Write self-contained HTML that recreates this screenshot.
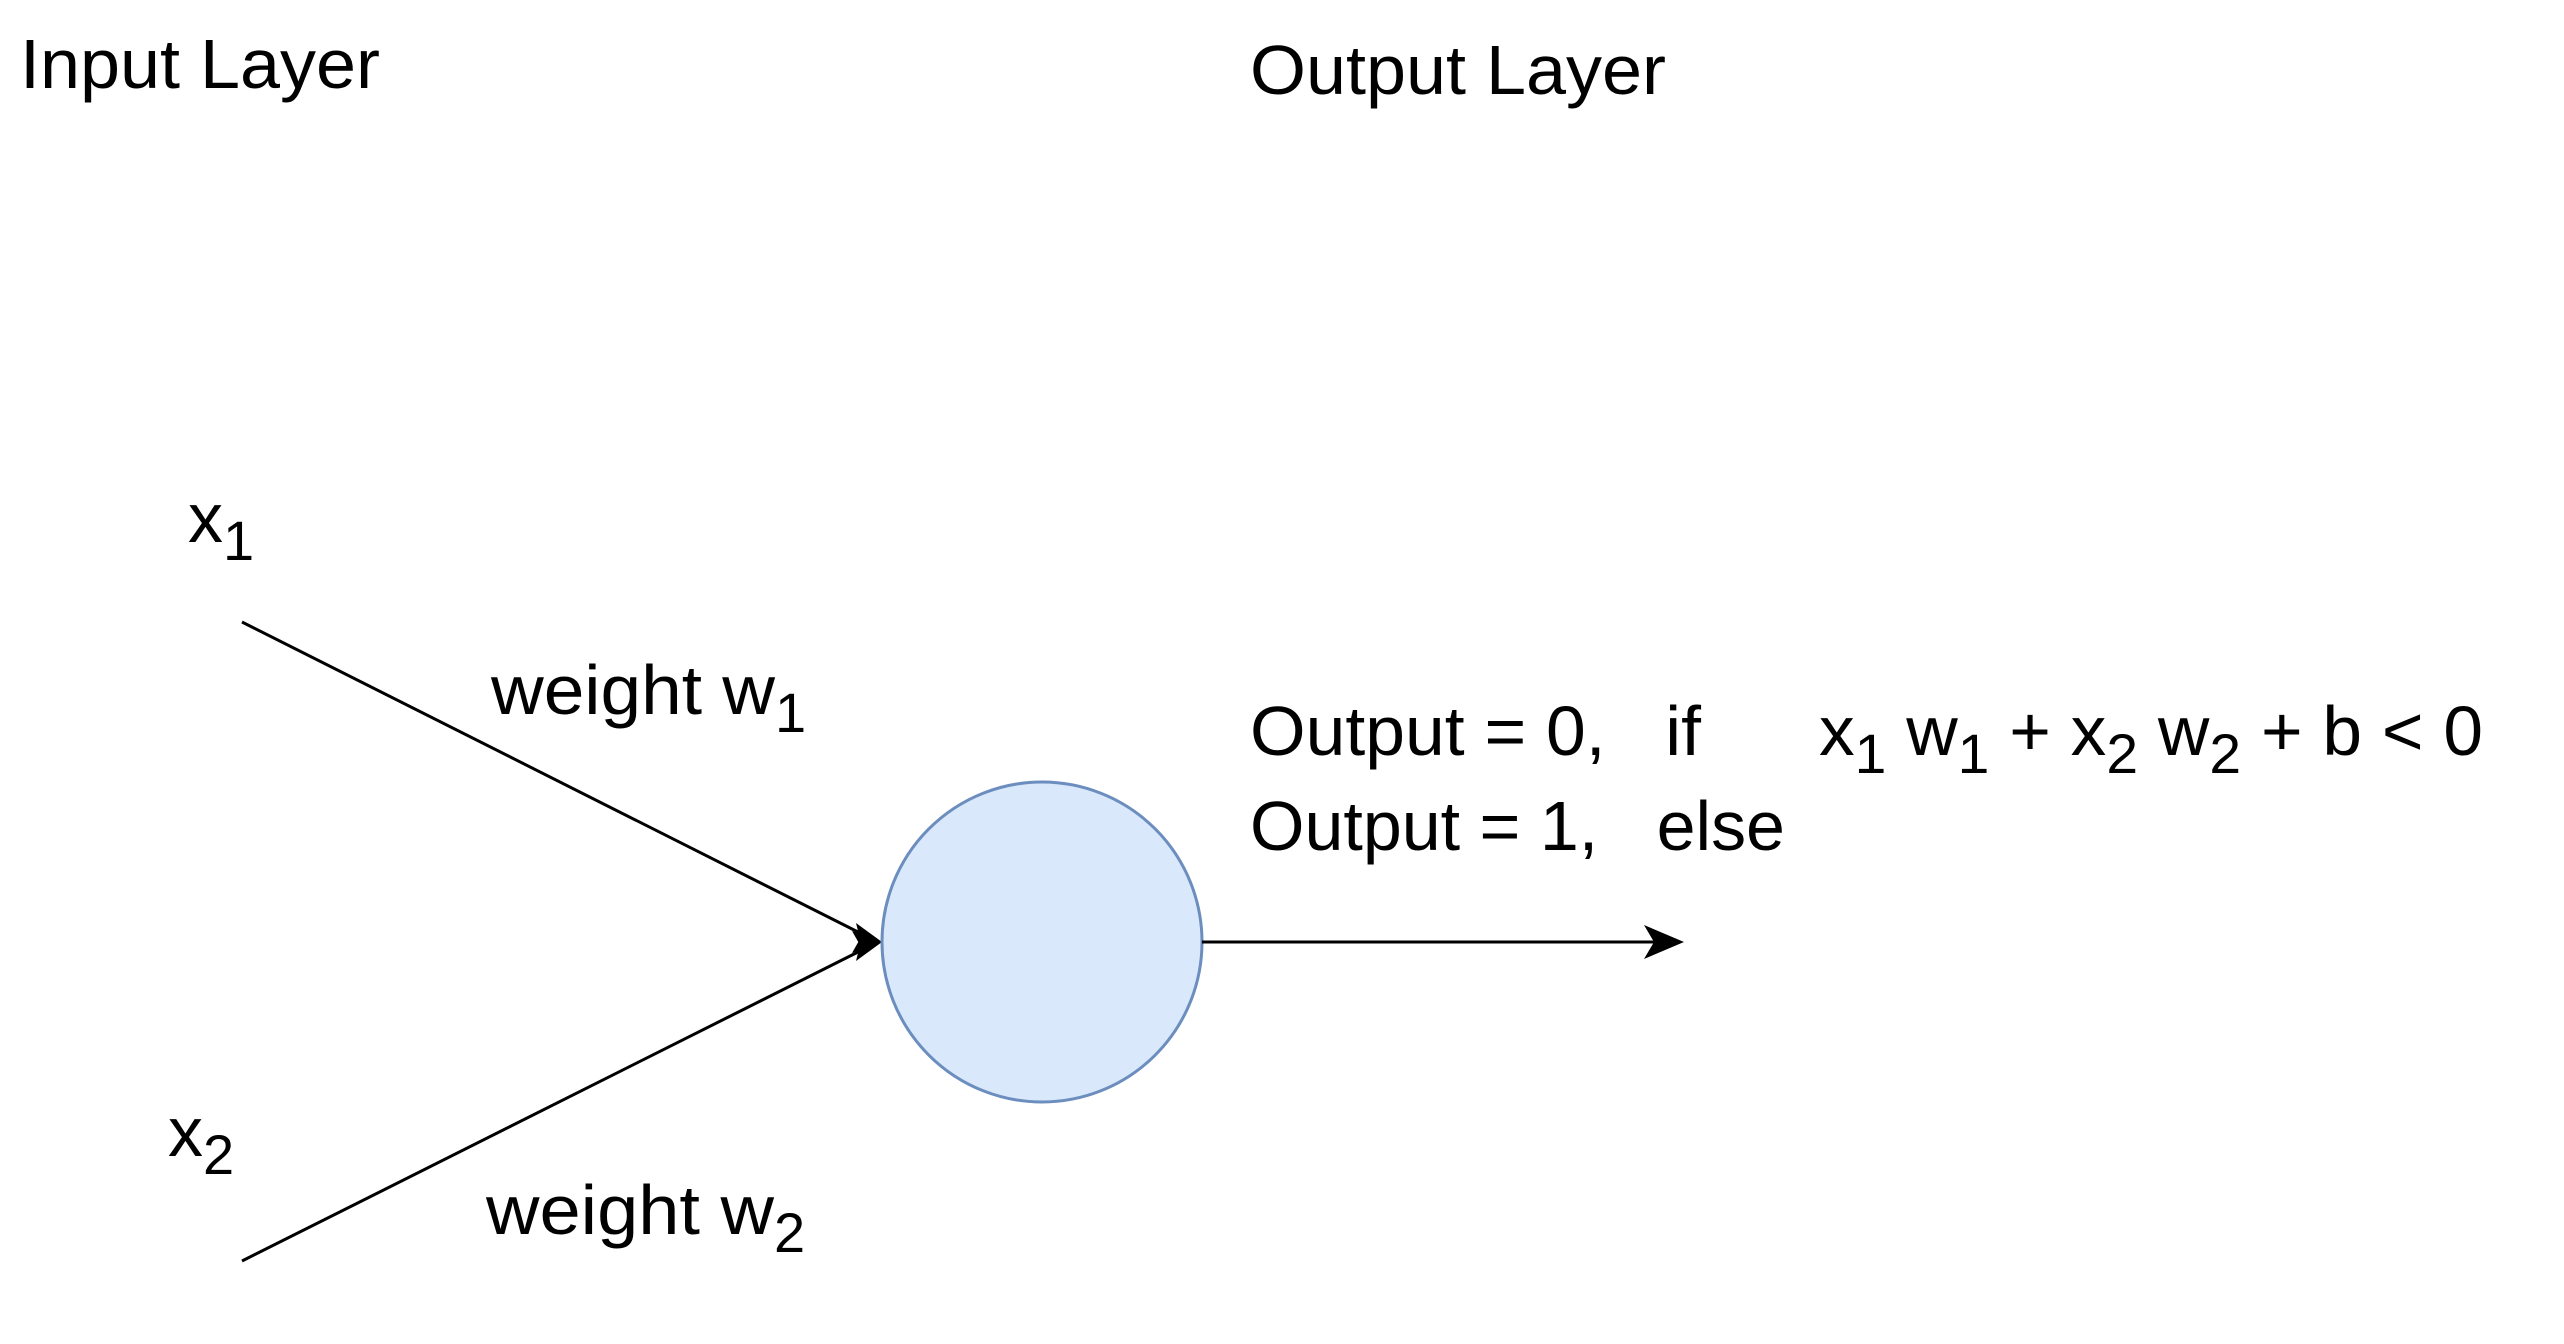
<!DOCTYPE html>
<html><head><meta charset="utf-8"><style>
html,body{margin:0;padding:0;background:#fff;width:2564px;height:1344px;overflow:hidden}
svg{display:block}
text{font-family:"Liberation Sans",sans-serif;fill:#000;white-space:pre}
</style></head><body>
<svg width="2564" height="1344" viewBox="0 0 2564 1344">
<text x="20" y="88" font-size="70" textLength="360" lengthAdjust="spacingAndGlyphs">Input Layer</text>
<text x="1250" y="94" font-size="70" textLength="416" lengthAdjust="spacingAndGlyphs">Output Layer</text>

<text x="188" y="542" font-size="70">x<tspan font-size="56" dy="18">1</tspan></text>
<text x="168" y="1156" font-size="70">x<tspan font-size="56" dy="18">2</tspan></text>

<line x1="242" y1="622" x2="868" y2="937" stroke="#000" stroke-width="3"/>
<path d="M882,942 L852,953 L860,939 L856,923 Z" fill="#000"/>
<line x1="242" y1="1261" x2="868" y2="947" stroke="#000" stroke-width="3"/>
<path d="M882,942 L856,961 L860,945 L852,931 Z" fill="#000"/>

<text x="491" y="714" font-size="70"><tspan textLength="284" lengthAdjust="spacingAndGlyphs">weight w</tspan><tspan font-size="56" dy="18">1</tspan></text>
<text x="486" y="1234" font-size="70"><tspan textLength="288" lengthAdjust="spacingAndGlyphs">weight w</tspan><tspan font-size="56" dy="18">2</tspan></text>

<circle cx="1042" cy="942" r="160" fill="#dae8fc" stroke="#6c8ebf" stroke-width="3"/>

<line x1="1202" y1="942" x2="1672" y2="942" stroke="#000" stroke-width="3"/>
<path d="M1684,942 L1644,959 L1654,942 L1644,925 Z" fill="#000"/>

<text x="1250" y="755" font-size="70" textLength="451" lengthAdjust="spacingAndGlyphs">Output = 0,   if</text>
<text x="1250" y="850" font-size="70" textLength="535" lengthAdjust="spacingAndGlyphs">Output = 1,   else</text>
<text x="1819" y="755" font-size="70" textLength="664" lengthAdjust="spacingAndGlyphs">x<tspan font-size="56" dy="18">1</tspan><tspan dy="-18"> w</tspan><tspan font-size="56" dy="18">1</tspan><tspan dy="-18"> + x</tspan><tspan font-size="56" dy="18">2</tspan><tspan dy="-18"> w</tspan><tspan font-size="56" dy="18">2</tspan><tspan dy="-18"> + b &lt; 0</tspan></text>
</svg>
</body></html>
